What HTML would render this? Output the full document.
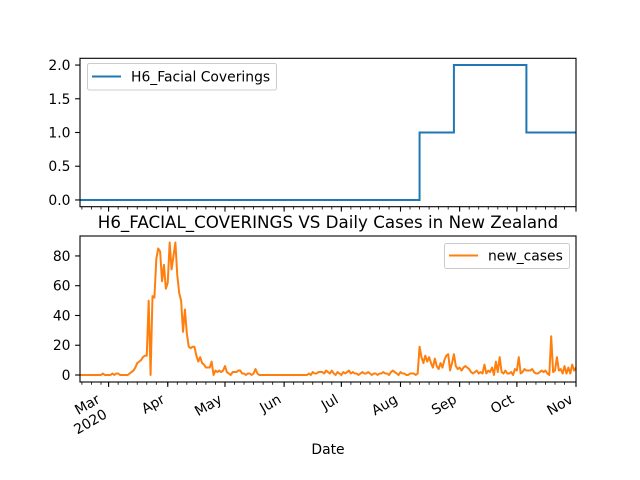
<!DOCTYPE html>
<html><head><meta charset="utf-8"><style>
body{margin:0;background:#fff;}
svg{display:block;font-family:"DejaVu Sans","Liberation Sans",sans-serif;}
</style></head><body>
<svg id="chart" width="640" height="480" viewBox="0 0 640 480" xmlns="http://www.w3.org/2000/svg">
<rect width="640" height="480" fill="#fff"/>
<g id="top"></g><g id="bot"></g>
</svg>
<script>
// day 0 = 2020-02-15, 261 days to 2020-11-01
const newCases = [
0,0,0,0,0,0,0,0,0,0,
0,0,1,0,0,0,0,1,0,1,
1,0,0,0,0,0,1,2,3,5,
8,9,10,12,13,13,50,0,53,52,
78,85,83,63,74,58,62,89,71,80,
89,67,55,50,29,44,28,19,18,19,
19,13,9,12,8,7,5,5,5,9,
0,3,2,3,2,3,6,2,1,0,
2,2,2,3,3,1,1,0,1,1,
0,1,4,1,0,0,0,0,0,0,
0,0,0,0,0,0,0,0,0,0,
0,0,0,0,0,0,0,0,0,0,
1,0,2,1,1,2,2,2,1,3,
2,1,3,1,0,2,1,0,2,1,
2,3,1,2,1,1,0,1,2,1,
1,2,1,0,1,1,0,1,1,2,
1,1,0,2,3,2,1,0,2,1,
1,0,0,1,1,1,0,1,19,12,
8,13,9,12,8,5,11,6,4,8,
5,10,13,14,3,8,14,6,4,5,
3,5,6,5,4,2,1,2,3,1,
2,1,7,1,3,2,5,0,9,2,
12,2,1,3,1,1,2,0,4,3,
12,1,2,4,3,3,3,4,2,1,
1,2,3,2,3,1,0,26,2,3,
12,3,4,1,6,1,5,1,7,3,5];
const facialStepDays = [0,178,196,234];
const facialStepValues = [0,1,2,1];
const topTicks = [0,0.5,1,1.5,2];
const topTickLabels = ["0.0","0.5","1.0","1.5","2.0"];
const botTicks = [0,20,40,60,80];
const monthDays = [15,46,76,107,137,168,199,229,260];
const monthLabels = ["Mar","Apr","May","Jun","Jul","Aug","Sep","Oct","Nov"];
const monthLens = [29,31,30,31,30,31,31,30,31];

const NS="http://www.w3.org/2000/svg";
const X0=80,X1=576,NDAYS=260,FS=13.9;
const xs=d=>X0+(X1-X0)*d/NDAYS;
function el(parent,tag,attrs,text){const e=document.createElementNS(NS,tag);for(const k in attrs)e.setAttribute(k,attrs[k]);if(text!==undefined)e.textContent=text;parent.appendChild(e);return e;}

const minorDays=[];
{let start=-14;
 for(let m=0;m<monthLens.length;m++){[0,5,10,15,20,25].forEach(o=>{const d=start+o;if(d>=0&&d<=NDAYS)minorDays.push(d);});start+=monthLens[m];}
}

function axes(g,name,top,bot,ymin,ymax,ticks,labels){
  const ys=v=>bot-(bot-top)*(v-ymin)/(ymax-ymin);
  ticks.forEach((t,i)=>{
    const y=ys(t);
    const l=el(g,'line',{x1:X0-4.9,x2:X0,y1:y,y2:y,stroke:'#000','stroke-width':1.1});
    
    
    const tx=el(g,'text',{x:X0-9.5,y:y+5,'font-size':FS,'text-anchor':'end',fill:'#000'},labels[i]);
    
    
  });
  minorDays.forEach(d=>{
    const l=el(g,'line',{x1:xs(d),x2:xs(d),y1:bot,y2:bot+2.8,stroke:'#000','stroke-width':0.8});
    
    
  });
  monthDays.forEach(d=>{
    const l=el(g,'line',{x1:xs(d),x2:xs(d),y1:bot,y2:bot+4.9,stroke:'#000','stroke-width':1.1});
    
    
  });
  return ys;
}
function frame(g,name,top,bot){
  const r=el(g,'rect',{x:X0,y:top,width:X1-X0,height:bot-top,fill:'none',stroke:'#000','stroke-width':1.1});
  
  
}

const gt=document.getElementById('top');


const ysT=axes(gt,'top',58.3,206.7,-0.1,2.1,topTicks,topTickLabels);
let p='';
for(let i=0;i<facialStepDays.length;i++){
  const x=xs(facialStepDays[i]),y=ysT(facialStepValues[i]);
  if(i===0)p+=`M${x},${y}`;else p+=`H${x}V${y}`;
}
p+=`H${xs(NDAYS)}`;
const lt=el(gt,'path',{d:p,fill:'none',stroke:'#1f77b4','stroke-width':2});


frame(gt,'top',58.3,206.7);
const lgT=el(gt,'g',{});


el(lgT,'rect',{x:87.5,y:63.5,width:189,height:26.5,rx:2,fill:'#fff','fill-opacity':0.8,stroke:'#ccc','stroke-width':1});
el(lgT,'line',{x1:92,x2:121,y1:76.5,y2:76.5,stroke:'#1f77b4','stroke-width':2});
el(lgT,'text',{x:131,y:81.5,'font-size':FS,fill:'#000'},'H6_Facial Coverings');

const gb=document.getElementById('bot');


const ysB=axes(gb,'bottom',236,382,-4.7,93.4,botTicks,botTicks.map(String));
const lb=el(gb,'path',{d:newCases.map((v,i)=>(i?'L':'M')+xs(i).toFixed(2)+','+ysB(v).toFixed(2)).join(''),fill:'none',stroke:'#ff7f0e','stroke-width':2,'stroke-linejoin':'round'});


frame(gb,'bottom',236,382);
const lgB=el(gb,'g',{});


el(lgB,'rect',{x:444.5,y:243.5,width:125,height:25,rx:2,fill:'#fff','fill-opacity':0.8,stroke:'#ccc','stroke-width':1});
el(lgB,'line',{x1:449,x2:478,y1:255.5,y2:255.5,stroke:'#ff7f0e','stroke-width':2});
el(lgB,'text',{x:488,y:260.5,'font-size':FS,fill:'#000'},'new_cases');

monthDays.forEach((d,i)=>{
  const x=xs(d);
  let ex=x-2,ey=402;
  if(i===0){ex=101;ey=402;}
  const t=el(gb,'text',{x:ex,y:ey,'font-size':FS,'text-anchor':'end',fill:'#000',transform:`rotate(-30 ${ex} ${ey})`},monthLabels[i]);
  
  
});
const yr=el(gb,'text',{x:108,y:417,'font-size':FS,'text-anchor':'end',fill:'#000',transform:'rotate(-30 108 417)'},'2020');



const title=el(gb,'text',{x:328,y:228,'font-size':16.7,'text-anchor':'middle',fill:'#000'},'H6_FACIAL_COVERINGS VS Daily Cases in New Zealand');


const xl=el(gb,'text',{x:328,y:454,'font-size':FS,'text-anchor':'middle',fill:'#000'},'Date');


</script>
</body></html>
